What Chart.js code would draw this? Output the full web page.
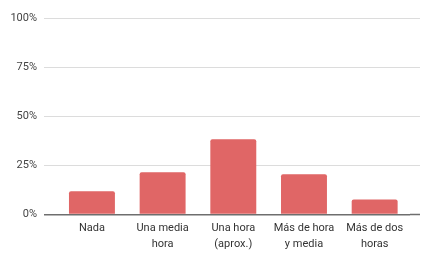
<!DOCTYPE html>
<html>
<head>
<meta charset="utf-8">
<script src="https://cdn.jsdelivr.net/npm/chart.js@4"></script>
<style>
  html, body { margin: 0; padding: 0; background: #fff; }
  #wrap { width: 422px; height: 253px; }
</style>
</head>
<body>
<div id="wrap"><canvas id="chart"></canvas></div>
<script>
// categorías y porcentajes
const categorias = [
    ["Nada"],
    ["Una media", "hora"],
    ["Una hora", "(aprox.)"],
    ["Más de hora", "y media"],
    ["Más de dos", "horas"],
];
const porcentajes = [11.8, 21.6, 38.4, 20.5, 7.7];
const ticksY = [0, 25, 50, 75, 100];

const GRID = "#dcdcdc";
const BASE = "#6e6e6e";

// alarga las líneas de la cuadrícula un poco a la derecha, como en el original
const extendGrid = {
    id: "extendGrid",
    beforeDatasetsDraw(chart) {
        const { ctx, chartArea, scales } = chart;
        const y = scales.y;
        ctx.save();
        ticksY.forEach((v) => {
            const py = y.getPixelForValue(v);
            ctx.strokeStyle = v === 0 ? BASE : GRID;
            ctx.lineWidth = v === 0 ? 1.5 : 1;
            ctx.beginPath();
            ctx.moveTo(chartArea.right, py);
            ctx.lineTo(chartArea.right + 10, py);
            ctx.stroke();
        });
        ctx.restore();
    },
};

const ctx = document.getElementById("chart").getContext("2d");
new Chart(ctx, {
    type: "bar",
    data: {
        labels: categorias,
        datasets: [
            {
                data: porcentajes,
                backgroundColor: "#e06666",
                borderRadius: 2,
                borderSkipped: "bottom",
                barPercentage: 0.65,
                categoryPercentage: 1,
            },
        ],
    },
    options: {
        responsive: true,
        maintainAspectRatio: false,
        animation: false,
        layout: { padding: { top: 18.5, right: 12, left: 0, bottom: 0 } },
        plugins: {
            legend: { display: false },
            tooltip: { enabled: false },
        },
        scales: {
            x: {
                afterFit(scale) {
                    scale.height = 38.5;
                },
                grid: { display: false, drawTicks: false },
                border: { display: false },
                ticks: {
                    color: "#333",
                    font: { family: "Roboto", size: 11, lineHeight: 1.45 },
                    padding: 6,
                    maxRotation: 0,
                    autoSkip: false,
                },
            },
            y: {
                min: 0,
                max: 100,
                afterFit(scale) {
                    scale.width = 56.6;
                },
                afterBuildTicks(scale) {
                    scale.ticks = ticksY.map((v) => ({ value: v }));
                },
                border: { display: false },
                grid: {
                    color: (c) => (c.tick && c.tick.value === 0 ? BASE : GRID),
                    lineWidth: (c) => (c.tick && c.tick.value === 0 ? 1.5 : 1),
                    drawTicks: true,
                    tickLength: 12.6,
                },
                ticks: {
                    color: "#444",
                    font: { family: "Roboto", size: 11 },
                    padding: 7,
                    callback: (v) => v + "%",
                },
            },
        },
    },
    plugins: [extendGrid],
});
</script>
</body>
</html>
